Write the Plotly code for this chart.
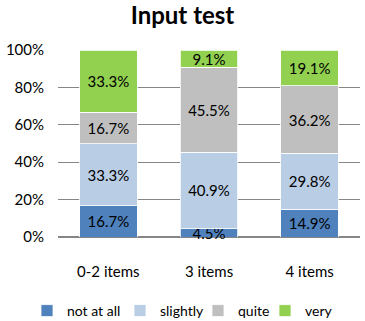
import plotly.graph_objects as go

categories = ["0-2 items", "3 items", "4 items"]
series_names = ["not at all", "slightly", "quite", "very"]
not_at_all = [16.7, 4.5, 14.9]
slightly = [33.3, 40.9, 29.8]
quite = [16.7, 45.5, 36.2]
very = [33.3, 9.1, 19.1]
y_ticks = [0, 20, 40, 60, 80, 100]

colors = ["#4F81BD", "#B9CDE5", "#BFBFBF", "#92D050"]
FONT = "Lato, Carlito, Calibri, sans-serif"
legend_left_px = [27, 120, 198, 265]  # legend box left edges (layout styling)
W, H = 365, 321

fig = go.Figure()
legend_ids = ["legend", "legend2", "legend3", "legend4"]
for name, vals, c, lid in zip(series_names, [not_at_all, slightly, quite, very], colors, legend_ids):
    fig.add_trace(go.Bar(
        x=categories, y=vals, name=name, legend=lid,
        marker=dict(color=c, line=dict(color="white", width=0.8)),
        text=[f"{v:.1f}%" for v in vals],
        textposition="inside", insidetextanchor="middle",
        textfont=dict(family=FONT, size=15, color="black"),
        cliponaxis=False,
    ))

legend_layout = {}
for lid, px in zip(legend_ids, legend_left_px):
    legend_layout[lid] = dict(orientation="h", xref="container", yref="container",
                              x=px / W, xanchor="left", y=1 - 311 / H, yanchor="middle",
                              font=dict(family=FONT, size=14), itemwidth=30,
                              bgcolor="rgba(0,0,0,0)")

fig.update_layout(
    barmode="stack", bargap=0.43,
    width=W, height=H,
    margin=dict(l=58, r=5, t=50, b=84, autoexpand=False),
    paper_bgcolor="white", plot_bgcolor="white",
    title=dict(text="<b>Input test</b>", x=0.5, xanchor="center", y=0.953, yanchor="middle",
               font=dict(family=FONT, size=24, color="black")),
    uniformtext=dict(minsize=15, mode="show"),
    font=dict(family=FONT, size=14, color="black"),
    showlegend=True,
    **legend_layout,
)
fig.update_yaxes(range=[0, 100], tickvals=y_ticks, ticktext=[f"{v}%" for v in y_ticks],
                 showgrid=True, gridcolor="#868686", gridwidth=1, zeroline=True,
                 zerolinecolor="#868686", showline=False, ticks="", ticklabelstandoff=13,
                 tickfont=dict(family=FONT, size=15))
fig.update_xaxes(showgrid=False, showline=False, ticks="", ticklabelstandoff=24,
                 tickfont=dict(family=FONT, size=15))

fig.write_html("out.html", post_script="document.body.style.margin='0';",
               config={"displayModeBar": False})
